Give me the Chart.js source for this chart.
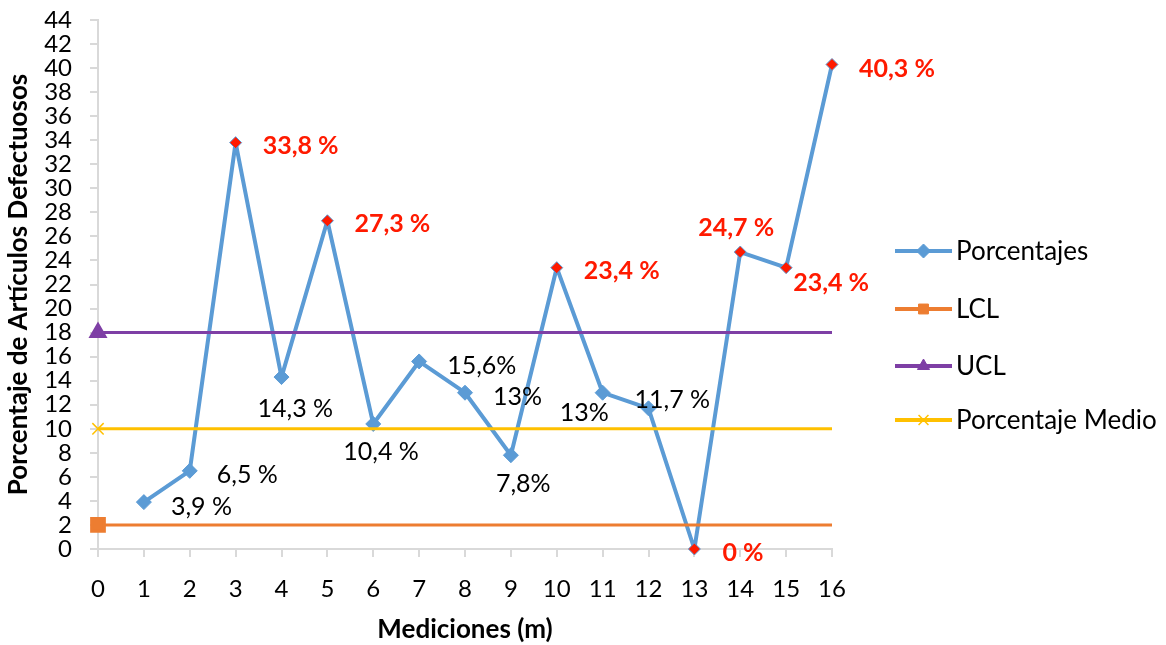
<!DOCTYPE html>
<html>
<head>
<meta charset="utf-8">
<script src="https://cdn.jsdelivr.net/npm/chart.js@4/dist/chart.umd.min.js"></script>
<style>
  html, body { margin: 0; padding: 0; background: #fff; }
  #wrap { width: 1166px; height: 645px; position: relative; }
</style>
</head>
<body>
<div id="wrap"><canvas id="chartControl"></canvas></div>
<script>
var mediciones = [1, 2, 3, 4, 5, 6, 7, 8, 9, 10, 11, 12, 13, 14, 15, 16];
var porcentajes = [3.9, 6.5, 33.8, 14.3, 27.3, 10.4, 15.6, 13, 7.8, 23.4, 13, 11.7, 0, 24.7, 23.4, 40.3];
// separador entre el número y el signo % en cada etiqueta
var sepPorcentaje = [' ', ' ', ' ', ' ', ' ', ' ', '', '', '', ' ', '', ' ', ' ', ' ', ' ', ' '];

var limiteInferior = 2;   // LCL
var limiteSuperior = 18;  // UCL
var porcentajeMedio = 10;
var rangoX = [0, 16];

var series = ['Porcentajes', 'LCL', 'UCL', 'Porcentaje Medio'];

// desplazamiento de cada etiqueta respecto a su punto [dx, dy]
var posEtiqueta = [
  [27, 5], [27, 4], [27, 3], [-24, 32], [27, 3], [-30, 28], [28, 4], [28, 4],
  [-15, 29], [27, 3], [-43, 20], [-14, -8], [28, 4], [-42, -24], [7, 15], [27, 4]
];

var azul = '#5B9BD5';
var naranja = '#ED7D31';
var morado = '#7E3FA5';
var amarillo = '#FFC000';
var rojo = '#FF1A00';
var fuente = 'Lato, "Open Sans", sans-serif';

function fueraDeControl(v) {
  return v > limiteSuperior || v < limiteInferior;
}

var puntosPorc = porcentajes.map(function (v, i) { return { x: mediciones[i], y: v }; });
var coloresPunto = porcentajes.map(function (v) { return fueraDeControl(v) ? rojo : azul; });
var radiosPunto = porcentajes.map(function (v) { return fueraDeControl(v) ? 6 : 7.5; });

function lineaHorizontal(valor) {
  return [{ x: rangoX[0], y: valor }, { x: rangoX[1], y: valor }];
}

// etiquetas de valor junto a cada punto
var etiquetasPlugin = {
  id: 'etiquetas',
  afterDatasetsDraw: function (chart) {
    var ctx = chart.ctx;
    var meta = chart.getDatasetMeta(0);
    ctx.save();
    ctx.textAlign = 'left';
    ctx.textBaseline = 'middle';
    meta.data.forEach(function (p, i) {
      var v = porcentajes[i];
      var txt = String(v).replace('.', ',') + sepPorcentaje[i] + '%';
      if (fueraDeControl(v)) {
        ctx.fillStyle = rojo;
        ctx.font = 'bold 25px ' + fuente;
      } else {
        ctx.fillStyle = '#000';
        ctx.font = '25px ' + fuente;
      }
      ctx.fillText(txt, p.x + posEtiqueta[i][0], p.y + posEtiqueta[i][1]);
    });
    ctx.restore();
  }
};

// leyenda a la derecha con línea y marcador
var leyendaPlugin = {
  id: 'leyendaLinea',
  afterDraw: function (chart) {
    var ctx = chart.ctx;
    var x0 = 895, x1 = 952, ys = [251, 309, 366, 420];
    ctx.save();
    chart.data.datasets.forEach(function (ds, i) {
      var y = ys[i];
      ctx.strokeStyle = ds.borderColor;
      ctx.fillStyle = ds.borderColor;
      ctx.lineWidth = 4;
      ctx.beginPath();
      ctx.moveTo(x0, y);
      ctx.lineTo(x1, y);
      ctx.stroke();
      var estilo = ds.legendStyle;
      ctx.lineWidth = estilo === 'crossRot' ? 1.5 : 1;
      Chart.helpers.drawPoint(ctx, {
        pointStyle: estilo,
        radius: 7,
        borderWidth: ctx.lineWidth
      }, (x0 + x1) / 2, y);
      ctx.fillStyle = '#000';
      ctx.font = '26px ' + fuente;
      ctx.textAlign = 'left';
      ctx.textBaseline = 'middle';
      ctx.fillText(ds.label, 956, y + 1);
    });
    ctx.restore();
  }
};

var ctxControl = document.getElementById('chartControl').getContext('2d');

var configControl = {
  type: 'line',
  data: {
    datasets: [{
      label: series[0],
      data: puntosPorc,
      borderColor: azul,
      backgroundColor: azul,
      borderWidth: 4,
      borderJoinStyle: 'round',
      pointStyle: 'rectRot',
      pointRadius: radiosPunto,
      pointBackgroundColor: coloresPunto,
      pointBorderColor: azul,
      pointBorderWidth: 1,
      legendStyle: 'rectRot',
      clip: false,
      order: 4
    }, {
      label: series[1],
      data: lineaHorizontal(limiteInferior),
      borderColor: naranja,
      backgroundColor: naranja,
      borderWidth: 3,
      pointStyle: 'rect',
      pointRadius: [9, 0],
      legendStyle: 'rect',
      clip: false,
      order: 3
    }, {
      label: series[2],
      data: lineaHorizontal(limiteSuperior),
      borderColor: morado,
      backgroundColor: morado,
      borderWidth: 3,
      pointStyle: 'triangle',
      pointRadius: [8, 0],
      legendStyle: 'triangle',
      clip: false,
      order: 2
    }, {
      label: series[3],
      data: lineaHorizontal(porcentajeMedio),
      borderColor: amarillo,
      backgroundColor: amarillo,
      borderWidth: 3,
      pointStyle: 'crossRot',
      pointRadius: [8, 0],
      pointBorderWidth: 1.5,
      legendStyle: 'crossRot',
      clip: false,
      order: 1
    }]
  },
  options: {
    responsive: true,
    maintainAspectRatio: false,
    animation: false,
    layout: { padding: { top: 20, right: 334, left: 0, bottom: 0 } },
    plugins: {
      legend: { display: false },
      tooltip: { enabled: false }
    },
    scales: {
      x: {
        type: 'linear',
        min: rangoX[0],
        max: rangoX[1],
        ticks: { stepSize: 1, autoSkip: false, color: '#000', font: { family: fuente, size: 24 }, padding: 18 },
        grid: { drawOnChartArea: false, tickLength: 8, color: '#d9d9d9', lineWidth: 2 },
        border: { color: '#d9d9d9', width: 2 },
        title: {
          display: true,
          text: 'Mediciones (m)',
          color: '#000',
          font: { family: fuente, size: 26, weight: 'bold' },
          padding: { top: 0, bottom: 0 }
        },
        afterFit: function (scale) {
          scale.height = 96;
          scale.paddingLeft = 0;
          scale.paddingRight = 0;
        }
      },
      y: {
        min: 0,
        max: 44,
        ticks: { stepSize: 2, autoSkip: false, color: '#000', font: { family: fuente, size: 24 }, padding: 18 },
        grid: { drawOnChartArea: false, tickLength: 8, color: '#d9d9d9', lineWidth: 2 },
        border: { color: '#d9d9d9', width: 2 },
        title: {
          display: true,
          text: 'Porcentaje de Artículos Defectuosos',
          color: '#000',
          font: { family: fuente, size: 26, weight: 'bold' },
          padding: { top: 3, bottom: 0 }
        },
        afterFit: function (scale) {
          scale.width = 98;
          scale.paddingTop = 0;
          scale.paddingBottom = 0;
        }
      }
    }
  },
  plugins: [etiquetasPlugin, leyendaPlugin]
};

var chartControl = new Chart(ctxControl, configControl);
</script>
</body>
</html>
